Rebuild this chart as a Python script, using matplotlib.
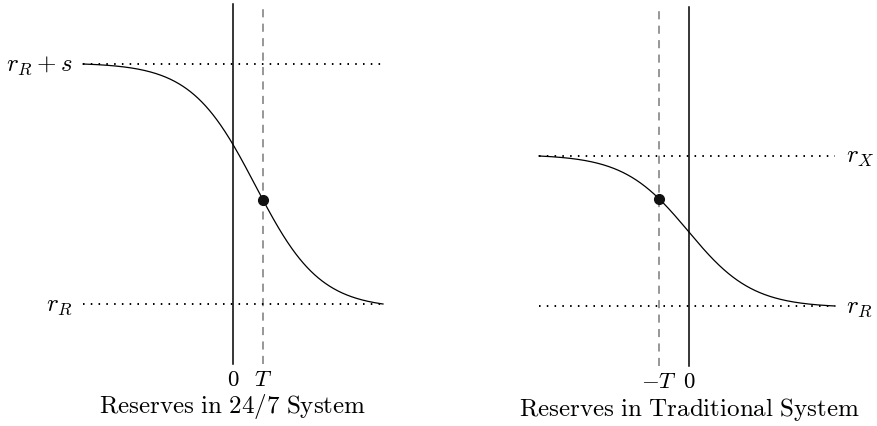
import numpy as np
import matplotlib
matplotlib.use("Agg")
import matplotlib.pyplot as plt

plt.rcParams['mathtext.fontset'] = 'cm'

# ---- data (conceptual levels) ----
# Left panel: Reserves in 24/7 System
left_levels = [0.0, 1.0]            # r_R, r_R + s
left_level_labels = [r'$r_R$', r'$r_R + s$']
left_vlines = [0.0, 1.0]            # 0 (solid), T (dashed)
left_vline_labels = [r'$0$', r'$T$']
left_curve_range = [-5.0, 5.0]
left_center = 0.75
left_steep = 0.93
left_title = r'$\mathrm{Reserves\ in\ 24/7\ System}$'

# Right panel: Reserves in Traditional System
right_levels = [0.0, 1.0]           # r_R, r_X
right_level_labels = [r'$r_R$', r'$r_X$']
right_vlines = [-1.0, 0.0]          # -T (dashed), 0 (solid)
right_vline_labels = [r'$-T$', r'$0$']
right_curve_range = [-5.0, 4.87]
right_center = -0.03
right_steep = 0.93
right_title = r'$\mathrm{Reserves\ in\ Traditional\ System}$'

W, H = 878, 427
fig = plt.figure(figsize=(W / 100, H / 100), dpi=100)

dot_style = dict(color='black', lw=1.4, linestyle=(0, (0.8, 3.2)))
dash_style = dict(color='#8f8f8f', lw=1.3, linestyle=(0, (4.5, 3.5)))
FS_TITLE = 18
FS_LEVEL = 18
FS_TICK = 16.5


def sigmoid_curve(xr, c, k, lo, hi):
    def fn(xx):
        g = lambda t: 1.0 / (1.0 + np.exp(-k * (t - c)))
        f0, f1 = g(xr[0]), g(xr[1])
        return hi - (hi - lo) * (g(xx) - f0) / (f1 - f0)
    x = np.linspace(xr[0], xr[1], 400)
    return x, fn(x), fn


# ---- left panel ----
axL = fig.add_axes([0, 0, 439 / W, 1])
axL.set_xlim(-233 / 30, (439 - 233) / 30)
axL.set_ylim((305 - 427) / 240, 305 / 240)
axL.axis('off')
yt, yb = (305 - 5) / 240, (305 - 365) / 240
axL.plot([left_vlines[0]] * 2, [yb, yt], color='black', lw=1.1)
axL.plot([left_vlines[1]] * 2, [yb, yt], **dash_style)
for lv in left_levels:
    axL.plot(left_curve_range, [lv, lv], **dot_style)
x, y, fn = sigmoid_curve(left_curve_range, left_center, left_steep,
                         left_levels[0], left_levels[1])
axL.plot(x, y, color='black', lw=0.9)
axL.plot([left_vlines[1]], [fn(left_vlines[1])], 'o', color='#111111', ms=7)
for lv, lab in zip(left_levels, left_level_labels):
    axL.text(left_curve_range[0] - 0.35, lv, lab, ha='right', va='center',
             fontsize=FS_LEVEL)
ylab = (305 - 380) / 240
for xv, lab in zip(left_vlines, left_vline_labels):
    axL.text(xv, ylab, lab, ha='center', va='center', fontsize=FS_TICK)
axL.text(0, (305 - 407) / 240, left_title, ha='center', va='center',
         fontsize=FS_TITLE)

# ---- right panel ----
axR = fig.add_axes([439 / W, 0, (W - 439) / W, 1])
axR.set_xlim((439 - 689) / 30, (878 - 689) / 30)
axR.set_ylim((307 - 427) / 150, 307 / 150)
axR.axis('off')
yt, yb = (307 - 8) / 150, (307 - 367) / 150
axR.plot([right_vlines[1]] * 2, [yb, yt], color='black', lw=1.1)
axR.plot([right_vlines[0]] * 2, [yb, yt], **dash_style)
for lv in right_levels:
    axR.plot(right_curve_range, [lv, lv], **dot_style)
x, y, fn = sigmoid_curve(right_curve_range, right_center, right_steep,
                         right_levels[0], right_levels[1])
axR.plot(x, y, color='black', lw=0.9)
axR.plot([right_vlines[0]], [fn(right_vlines[0])], 'o', color='#111111', ms=7)
for lv, lab in zip(right_levels, right_level_labels):
    axR.text(right_curve_range[1] + 0.35, lv, lab, ha='left', va='center',
             fontsize=FS_LEVEL)
ylab = (307 - 382) / 150
for xv, lab in zip(right_vlines, right_vline_labels):
    axR.text(xv, ylab, lab, ha='center', va='center', fontsize=FS_TICK)
axR.text(0, (307 - 410) / 150, right_title, ha='center', va='center',
         fontsize=FS_TITLE)

fig.savefig('out.png', dpi=100)
